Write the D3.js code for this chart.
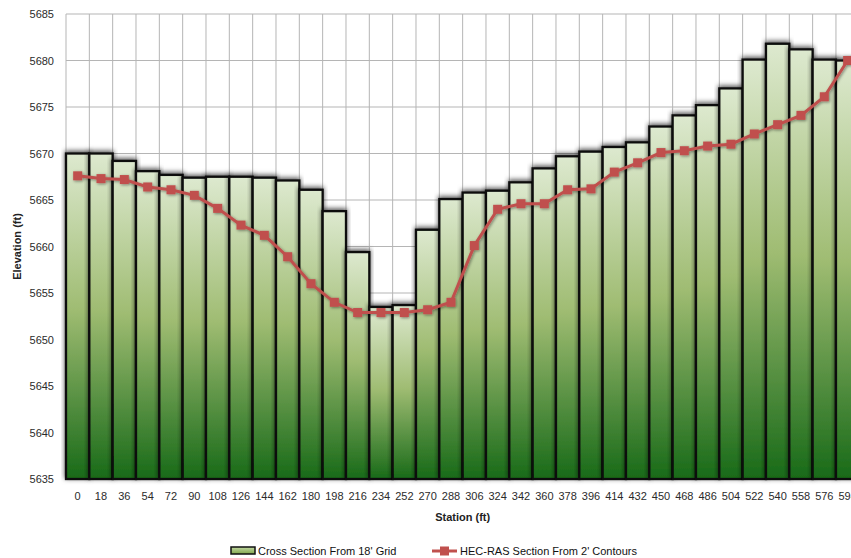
<!DOCTYPE html>
<html>
<head>
<meta charset="utf-8">
<script src="https://cdn.jsdelivr.net/npm/d3@7"></script>
<style>
  body { margin: 0; background: #fff; }
  text { font-family: "Liberation Sans", Arial, sans-serif; }
  .axis path, .axis line { display: none; }
  .axis text { font-size: 11px; fill: #2b2b2b; }
</style>
</head>
<body>
<div id="graph"></div>
<script>
// station labels (ft)
var stations = ["0","18","36","54","72","90","108","126","144","162","180","198","216","234","252","270","288",
  "306","324","342","360","378","396","414","432","450","468","486","504","522","540","558","576","594"];

// Cross Section From 18' Grid
var gridElev = [5670.0, 5670.0, 5669.2, 5668.1, 5667.7, 5667.4, 5667.5, 5667.5, 5667.4, 5667.1, 5666.1, 5663.8,
  5659.4, 5653.5, 5653.7, 5661.8, 5665.1, 5665.8, 5666.0, 5666.9, 5668.4, 5669.7, 5670.2, 5670.7, 5671.2,
  5672.9, 5674.1, 5675.2, 5677.0, 5680.1, 5681.8, 5681.2, 5680.1, 5680.0];

// HEC-RAS Section From 2' Contours
var rasElev = [5667.6, 5667.3, 5667.2, 5666.4, 5666.1, 5665.5, 5664.1, 5662.3, 5661.2, 5658.9, 5656.0, 5654.0,
  5652.9, 5652.9, 5652.9, 5653.2, 5654.0, 5660.1, 5664.0, 5664.6, 5664.6, 5666.1, 5666.2, 5668.0, 5669.0,
  5670.1, 5670.3, 5670.8, 5671.0, 5672.1, 5673.1, 5674.1, 5676.1, 5680.0];

var yTicks = [5635, 5640, 5645, 5650, 5655, 5660, 5665, 5670, 5675, 5680, 5685];

var W = 851, H = 558;
var pLeft = 66, pRight = 859.3, pTop = 14, pBottom = 479;

var x = d3.scaleBand().domain(stations).range([pLeft, pRight]).padding(0);
var y = d3.scaleLinear().domain([5635, 5685]).range([pBottom, pTop]);

var svg = d3.select("#graph").append("svg")
  .attr("width", W).attr("height", H);

var defs = svg.append("defs");
var grad = defs.append("linearGradient").attr("id", "barGrad")
  .attr("x1", 0).attr("y1", 0).attr("x2", 0).attr("y2", 1);
grad.append("stop").attr("offset", "0%").attr("stop-color", "#dde9cf");
grad.append("stop").attr("offset", "48%").attr("stop-color", "#9fbc72");
grad.append("stop").attr("offset", "100%").attr("stop-color", "#186a18");

var lgGrad = defs.append("linearGradient").attr("id", "lgGrad")
  .attr("x1", 0).attr("y1", 0).attr("x2", 0).attr("y2", 1);
lgGrad.append("stop").attr("offset", "0%").attr("stop-color", "#c4d9a4");
lgGrad.append("stop").attr("offset", "100%").attr("stop-color", "#7fa64a");

var shadow = defs.append("filter").attr("id", "shadow")
  .attr("x", "-20%").attr("y", "-20%").attr("width", "140%").attr("height", "140%");
shadow.append("feDropShadow").attr("dx", 0).attr("dy", -1.5).attr("stdDeviation", 2.5)
  .attr("flood-color", "#000").attr("flood-opacity", 0.7);

var mShadow = defs.append("filter").attr("id", "mshadow")
  .attr("x", "-50%").attr("y", "-50%").attr("width", "200%").attr("height", "200%");
mShadow.append("feDropShadow").attr("dx", 1).attr("dy", 1).attr("stdDeviation", 1.5)
  .attr("flood-color", "#000").attr("flood-opacity", 0.45);

// gridlines
var grid = svg.append("g");
grid.selectAll("line.h").data(yTicks).enter().append("line")
  .attr("x1", pLeft).attr("x2", pRight)
  .attr("y1", function(d) { return y(d); }).attr("y2", function(d) { return y(d); })
  .attr("stroke", "#b5b5b5").attr("stroke-width", 1);
grid.selectAll("line.v").data(stations).enter().append("line")
  .attr("x1", function(d) { return x(d); }).attr("x2", function(d) { return x(d); })
  .attr("y1", pTop).attr("y2", pBottom)
  .attr("stroke", "#b5b5b5").attr("stroke-width", 1);

// bars
svg.append("g").selectAll("rect").data(gridElev).enter().append("rect")
  .attr("x", function(d, i) { return x(stations[i]); })
  .attr("y", function(d) { return y(d); })
  .attr("width", x.bandwidth())
  .attr("height", function(d) { return y(5635) - y(d); })
  .attr("fill", "url(#barGrad)")
  .attr("stroke", "#0d0d0d").attr("stroke-width", 2.3)
  .attr("filter", "url(#shadow)");

// line series
var line = d3.line()
  .x(function(d, i) { return x(stations[i]) + x.bandwidth() / 2; })
  .y(function(d) { return y(d); });

var lg = svg.append("g").attr("filter", "url(#mshadow)");
lg.append("path").attr("d", line(rasElev))
  .attr("fill", "none").attr("stroke", "#c0504d").attr("stroke-width", 3);
lg.selectAll("rect").data(rasElev).enter().append("rect")
  .attr("x", function(d, i) { return x(stations[i]) + x.bandwidth() / 2 - 4.5; })
  .attr("y", function(d) { return y(d) - 4.5; })
  .attr("width", 9).attr("height", 9)
  .attr("fill", "#c0504d");

// axes
svg.append("g").attr("class", "axis")
  .attr("transform", "translate(" + (pLeft - 12) + ",0)")
  .call(d3.axisLeft(y).tickValues(yTicks).tickSize(0).tickPadding(0).tickFormat(d3.format("d")));

svg.append("g").attr("class", "axis")
  .attr("transform", "translate(0," + (pBottom + 10) + ")")
  .call(d3.axisBottom(x).tickSize(0).tickPadding(3));

svg.append("text")
  .attr("x", (pLeft + pRight) / 2).attr("y", 521)
  .attr("text-anchor", "middle").attr("font-size", 11).attr("font-weight", "bold").attr("fill", "#222")
  .text("Station (ft)");

svg.append("text")
  .attr("transform", "translate(21," + ((pTop + pBottom) / 2) + ") rotate(-90)")
  .attr("text-anchor", "middle").attr("font-size", 11).attr("font-weight", "bold").attr("fill", "#222")
  .text("Elevation (ft)");

// legend
var leg = svg.append("g");
leg.append("rect").attr("x", 231).attr("y", 547).attr("width", 24).attr("height", 7)
  .attr("fill", "url(#lgGrad)").attr("stroke", "#111").attr("stroke-width", 1.5);
leg.append("text").attr("x", 258).attr("y", 555).attr("font-size", 11).attr("fill", "#111")
  .text("Cross Section From 18' Grid");
leg.append("line").attr("x1", 432).attr("x2", 457).attr("y1", 551).attr("y2", 551)
  .attr("stroke", "#c0504d").attr("stroke-width", 3);
leg.append("rect").attr("x", 440).attr("y", 546.5).attr("width", 9).attr("height", 9)
  .attr("fill", "#c0504d");
leg.append("text").attr("x", 460).attr("y", 555).attr("font-size", 11).attr("fill", "#111")
  .text("HEC-RAS Section From 2' Contours");
</script>
</body>
</html>
